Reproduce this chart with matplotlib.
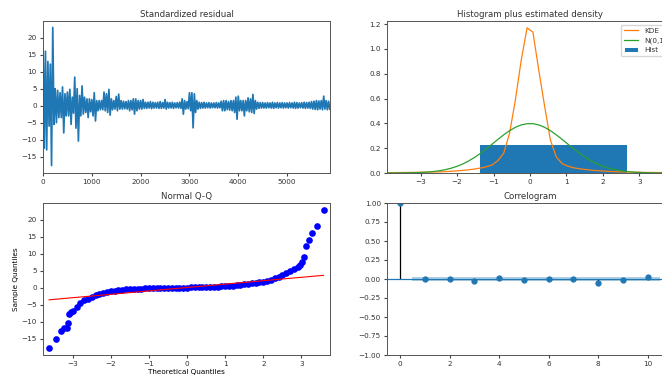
import numpy as np
import matplotlib
matplotlib.use("Agg")
import matplotlib.pyplot as plt

# standardized residual, read as max / min per block of 50 observations
n_obs = 5880
block = 50
resid_hi = [18.5, 16.0, 13.0, 12.2, 23.0, 5.0, 4.5, 3.8, 5.5, 3.5,
            4.0, 4.8, 2.5, 8.4, 5.0, 3.0, 5.8, 2.5, 2.0, 2.0,
            1.8, 3.8, 1.5, 1.5, 1.5, 4.0, 3.5, 4.8, 2.0, 1.5,
            2.7, 3.4, 1.5, 1.3, 1.2, 1.5, 1.5, 2.0, 2.0, 1.5,
            1.5, 1.8, 1.0, 1.0, 1.2, 1.0, 0.9, 1.0, 1.2, 0.9,
            1.8, 1.0, 0.9, 1.0, 0.8, 0.9, 1.0, 2.0, 1.5, 1.2,
            3.8, 3.8, 3.5, 1.5, 1.0, 0.9, 1.0, 0.8, 0.9, 0.8,
            0.8, 0.9, 0.8, 1.3, 1.5, 1.5, 1.2, 1.5, 1.5, 2.5,
            2.8, 1.5, 1.5, 1.5, 2.3, 2.0, 3.3, 1.5, 1.0, 0.9,
            0.9, 0.8, 0.9, 0.8, 1.0, 0.8, 0.9, 0.8, 0.9, 0.8,
            0.8, 0.9, 0.8, 1.0, 0.9, 0.8, 0.9, 1.0, 0.9, 1.0,
            1.2, 1.3, 1.5, 1.4, 1.5, 2.8, 1.5, 1.3]
resid_lo = [-12.5, -13.0, -6.0, -17.6, -5.5, -5.0, -3.5, -3.5, -8.0, -3.0,
            -3.0, -5.5, -2.2, -6.6, -10.4, -3.0, -2.5, -2.0, -3.5, -1.8,
            -3.0, -4.5, -1.5, -1.2, -1.2, -1.5, -2.0, -2.8, -1.2, -1.0,
            -1.5, -1.0, -1.0, -0.9, -1.0, -1.5, -1.2, -2.5, -1.5, -1.0,
            -1.0, -0.8, -0.8, -0.7, -0.9, -0.7, -0.7, -0.8, -0.8, -0.7,
            -1.0, -0.7, -0.7, -0.8, -0.6, -0.7, -0.8, -2.5, -1.0, -0.9,
            -1.5, -6.5, -2.0, -1.0, -0.8, -0.7, -0.7, -0.6, -0.7, -0.6,
            -0.6, -0.7, -0.6, -1.5, -1.5, -1.2, -1.3, -1.5, -2.0, -4.0,
            -1.5, -1.5, -3.0, -1.5, -1.8, -2.0, -2.3, -1.0, -0.8, -0.7,
            -0.7, -0.7, -0.6, -0.7, -0.8, -0.6, -0.7, -0.6, -0.7, -0.6,
            -0.7, -0.6, -0.7, -0.8, -0.7, -0.6, -0.7, -0.8, -0.7, -0.8,
            -1.0, -1.1, -1.2, -1.0, -1.2, -1.0, -1.2, -1.0]

# histogram (density) and kde
hist_edges = [-17.6, -13.55, -9.5, -5.45, -1.4, 2.65, 6.7, 10.75, 14.8, 18.85, 22.9]
hist_dens = [0.00004, 0.0001, 0.0008, 0.003, 0.2375, 0.0025, 0.0005, 0.0002, 0.0001, 0.00004]
kde_lim = 3.92
kde_vals = [0.003, 0.003, 0.0035, 0.004, 0.0045, 0.005, 0.006, 0.007, 0.008, 0.009,
            0.011, 0.014, 0.017, 0.021, 0.026, 0.032, 0.04, 0.05, 0.065, 0.10,
            0.16, 0.32, 0.59, 0.91, 1.17, 1.135, 0.83, 0.54, 0.265, 0.13,
            0.076, 0.055, 0.042, 0.034, 0.028, 0.023, 0.019, 0.016, 0.013, 0.011,
            0.009, 0.008, 0.007, 0.006, 0.005, 0.0045, 0.004, 0.0035, 0.003, 0.003]

# normal Q-Q
qq_theo = [-3.62, -3.44, -3.31, -3.22, -3.16, -3.12, -3.09, -3.05,
           -3.0, -2.9, -2.8, -2.7, -2.6, -2.5, -2.4, -2.3, -2.2, -2.1,
           -2.0, -1.9, -1.8, -1.7, -1.6, -1.5, -1.4, -1.3, -1.2, -1.1,
           -1.0, -0.9, -0.8, -0.7, -0.6, -0.5, -0.4, -0.3, -0.2, -0.1,
           0.0, 0.1, 0.2, 0.3, 0.4, 0.5, 0.6, 0.7, 0.8, 0.9,
           1.0, 1.1, 1.2, 1.3, 1.4, 1.5, 1.6, 1.7, 1.8, 1.9,
           2.0, 2.1, 2.2, 2.3, 2.4, 2.5, 2.6, 2.7, 2.8, 2.9,
           2.96, 3.02, 3.07, 3.13, 3.20, 3.29, 3.41, 3.58]
qq_sample = [-17.6, -15.2, -12.7, -12.0, -11.8, -10.5, -7.8, -7.2,
             -6.9, -5.8, -4.6, -3.7, -3.2, -2.7, -2.3, -1.9, -1.5, -1.25,
             -1.05, -0.9, -0.75, -0.62, -0.52, -0.44, -0.38, -0.32, -0.27, -0.23,
             -0.2, -0.17, -0.14, -0.11, -0.08, -0.06, -0.04, -0.02, 0.0, 0.02,
             0.04, 0.06, 0.08, 0.1, 0.13, 0.16, 0.2, 0.25, 0.3, 0.37,
             0.45, 0.53, 0.62, 0.72, 0.84, 0.97, 1.1, 1.25, 1.42, 1.6,
             1.8, 2.05, 2.35, 2.7, 3.1, 3.6, 4.2, 4.9, 5.4, 6.2,
             6.6, 7.6, 8.9, 12.3, 14.0, 16.0, 18.2, 22.9]
qq_slope = 1.0
qq_icept = 0.05

# correlogram
acf_lags = [0, 1, 2, 3, 4, 5, 6, 7, 8, 9, 10]
acf_vals = [1.0, 0.0, 0.0, -0.02, 0.01, -0.015, 0.0, 0.0, -0.05, -0.01, 0.02]
acf_conf = 0.026

plt.rcParams['font.size'] = 5.2
plt.rcParams['text.color'] = '#333333'
plt.rcParams['axes.edgecolor'] = '#555555'
plt.rcParams['xtick.color'] = '#444444'
plt.rcParams['ytick.color'] = '#444444'
plt.rcParams['xtick.labelcolor'] = '#333333'
plt.rcParams['ytick.labelcolor'] = '#333333'
plt.rcParams['xtick.major.size'] = 2.2
plt.rcParams['ytick.major.size'] = 2.2
plt.rcParams['xtick.major.pad'] = 2.2
plt.rcParams['ytick.major.pad'] = 2.2
plt.rcParams['axes.linewidth'] = 0.7

fig = plt.figure(figsize=(6.62, 3.82), dpi=100)
W, H = 662, 382


def box(l, t, r, b):
    return [l / W, 1 - b / H, (r - l) / W, (b - t) / H]


ax1 = fig.add_axes(box(43, 21, 330, 173))
ax2 = fig.add_axes(box(387, 21, 673, 173))
ax3 = fig.add_axes(box(43, 203, 330, 355))
ax4 = fig.add_axes(box(387, 203, 673, 355))

# standardized residual
xs = []
ys = []
for b in range(len(resid_hi)):
    xs += [b * block, b * block + block / 2]
    ys += [resid_hi[b], resid_lo[b]]
xs = np.clip(xs, 0, n_obs - 1)
ax1.plot(xs, ys, color='C0', lw=1.25)
ax1.hlines(0, 0, n_obs - 1, alpha=0.5)
ax1.set_xlim(0, n_obs - 1)
ax1.set_ylim(-19.8, 24.9)
ax1.set_xticks([0, 1000, 2000, 3000, 4000, 5000])
ax1.set_yticks([-15, -10, -5, 0, 5, 10, 15, 20])
ax1.set_title('Standardized residual', fontsize=6.2, pad=3)

# histogram plus density
hb = ax2.hist(hist_edges[:-1], bins=hist_edges, weights=hist_dens, color='C0',
              edgecolor='#FFFFFF', linewidth=0.7, label='Hist')
kx = np.linspace(-kde_lim, kde_lim, len(kde_vals))
ax2.plot(kx, kde_vals, color='C1', lw=0.9, label='KDE')
ax2.plot(kx, np.exp(-kx ** 2 / 2) / np.sqrt(2 * np.pi), color='C2', lw=0.9, label='N(0,1)')
ax2.set_xlim(-kde_lim, kde_lim)
ax2.set_ylim(0, 1.225)
ax2.set_xticks([-3, -2, -1, 0, 1, 2, 3])
ax2.set_yticks([0.0, 0.2, 0.4, 0.6, 0.8, 1.0, 1.2])
handles, labels = ax2.get_legend_handles_labels()
order = [labels.index('KDE'), labels.index('N(0,1)'), labels.index('Hist')]
ax2.legend([handles[i] for i in order], [labels[i] for i in order],
           loc='upper right', fontsize=5.2, handlelength=2.0, borderaxespad=0.5)
ax2.set_title('Histogram plus estimated density', fontsize=6.2, pad=3)

# normal Q-Q
ax3.plot(qq_theo, qq_sample, 'o', color='blue', markersize=4.8, markeredgewidth=0)
lx = np.array([qq_theo[0], qq_theo[-1]])
ax3.plot(lx, qq_slope * lx + qq_icept, color='red', lw=0.8)
ax3.set_xlim(-3.78, 3.75)
ax3.set_ylim(-19.8, 24.9)
ax3.set_xticks([-3, -2, -1, 0, 1, 2, 3])
ax3.set_yticks([-15, -10, -5, 0, 5, 10, 15, 20])
ax3.set_xlabel('Theoretical Quantiles', labelpad=1.5)
ax3.set_ylabel('Sample Quantiles', labelpad=2)
ax3.set_title('Normal Q-Q', fontsize=6.2, pad=3)

# correlogram
ax4.vlines(acf_lags, 0, acf_vals, colors='k', lw=0.9)
ax4.axhline(0, color='C0', lw=0.9)
ax4.fill_between([0.5, acf_lags[-1] + 0.5], -acf_conf, acf_conf, color='C0', alpha=0.35, lw=0)
ax4.plot(acf_lags, acf_vals, 'o', color='C0', markersize=3.5)
ax4.set_xlim(-0.525, 11.025)
ax4.set_ylim(-1, 1)
ax4.set_xticks([0, 2, 4, 6, 8, 10])
ax4.set_yticks([-1.0, -0.75, -0.5, -0.25, 0.0, 0.25, 0.5, 0.75, 1.0])
ax4.set_title('Correlogram', fontsize=6.2, pad=3)

fig.savefig('out.png', dpi=100)
